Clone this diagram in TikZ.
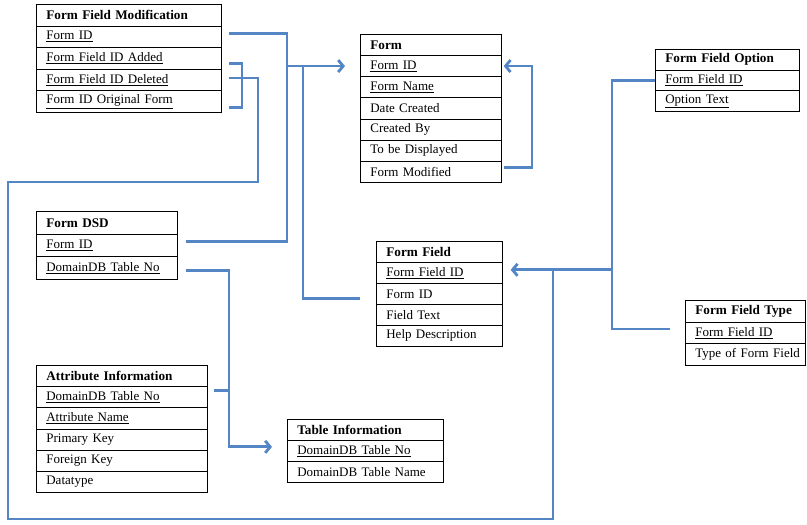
\documentclass[tikz,border=0pt]{standalone}
\usepackage{fontspec}
\setmainfont{Liberation Serif}
\usetikzlibrary{arrows.meta}
\definecolor{conn}{RGB}{84,133,196}
\tikzset{
  x=1pt, y=-1pt,
  cell/.style={draw=black, line width=0.7pt, anchor=north west, inner xsep=10pt, inner ysep=0pt, align=left, font=\fontsize{13}{14}\selectfont},
  hdr/.style={cell, font=\fontsize{13.2}{14}\selectfont\bfseries},
  link/.style={draw=conn, line width=2.8pt, line join=miter},
  tip/.style={link, -{Straight Barb[length=5pt,width=12pt]}}
}
% \erow{name}{x}{y}{width}{height}{text}
\newcommand{\erow}[6]{\node[cell, minimum width=#4pt, minimum height=#5pt, text width=\dimexpr#4pt-20pt\relax] (#1) at (#2,#3) {\mbox{#6}};}
\newcommand{\ehdr}[6]{\node[hdr, minimum width=#4pt, minimum height=#5pt, text width=\dimexpr#4pt-20pt\relax] (#1) at (#2,#3) {\mbox{#6}};}
\begin{document}
\begin{tikzpicture}
\useasboundingbox (0,0) rectangle (807,525);
% Form Field Modification
\ehdr{ffm0}{36}{4}{185}{21.6}{Form Field Modification}
\erow{ffm1}{36}{25.6}{185}{21.6}{\underline{Form ID}}
\erow{ffm2}{36}{47.2}{185}{21.6}{\underline{Form Field ID Added}}
\erow{ffm3}{36}{68.8}{185}{21.6}{\underline{Form Field ID Deleted}}
\erow{ffm4}{36}{90.4}{185}{21.6}{\underline{Form ID Original Form}}
% Form
\ehdr{fm0}{360}{34}{141}{21.14}{Form}
\erow{fm1}{360}{55.14}{141}{21.14}{\underline{Form ID}}
\erow{fm2}{360}{76.28}{141}{21.14}{\underline{Form Name}}
\erow{fm3}{360}{97.42}{141}{21.14}{Date Created}
\erow{fm4}{360}{118.56}{141}{21.14}{Created By}
\erow{fm5}{360}{139.7}{141}{21.14}{To be Displayed}
\erow{fm6}{360}{160.84}{141}{21.14}{Form Modified}
% Form Field Option
\ehdr{ffo0}{655}{49}{144}{20.7}{Form Field Option}
\erow{ffo1}{655}{69.7}{144}{20.7}{\underline{Form Field ID}}
\erow{ffo2}{655}{90.4}{144}{20.7}{\underline{Option Text}}
% Form DSD
\ehdr{dsd0}{36}{211}{141}{22.7}{Form DSD}
\erow{dsd1}{36}{233.7}{141}{22.7}{\underline{Form ID}}
\erow{dsd2}{36}{256.4}{141}{22.7}{\underline{DomainDB Table No}}
% Form Field
\ehdr{ff0}{376}{241}{126}{21}{Form Field}
\erow{ff1}{376}{262}{126}{21}{\underline{Form Field ID}}
\erow{ff2}{376}{283}{126}{21}{Form ID}
\erow{ff3}{376}{304}{126}{21}{Field Text}
\erow{ff4}{376}{325}{126}{21}{Help Description}
% Form Field Type
\ehdr{fft0}{685}{300}{120}{21.7}{Form Field Type}
\erow{fft1}{685}{321.7}{120}{21.7}{\underline{Form Field ID}}
\erow{fft2}{685}{343.4}{120}{21.7}{Type of Form Field}
% Attribute Information
\ehdr{ai0}{36}{365}{171}{21.17}{Attribute Information}
\erow{ai1}{36}{386.17}{171}{21.17}{\underline{DomainDB Table No}}
\erow{ai2}{36}{407.34}{171}{21.17}{\underline{Attribute Name}}
\erow{ai3}{36}{428.51}{171}{21.17}{Primary Key}
\erow{ai4}{36}{449.68}{171}{21.17}{Foreign Key}
\erow{ai5}{36}{470.85}{171}{21.17}{Datatype}
% Table Information
\ehdr{ti0}{287}{419}{156}{21}{Table Information}
\erow{ti1}{287}{440}{156}{21}{\underline{DomainDB Table No}}
\erow{ti2}{287}{461}{156}{21}{DomainDB Table Name}
% connector end points
\coordinate (a1) at ([shift={(7,-3)}]ffm1.east);
\coordinate (a2) at ([shift={(7,5)}]ffm2.east);
\coordinate (a3) at ([shift={(7,-2)}]ffm3.east);
\coordinate (a4) at ([shift={(7,6)}]ffm4.east);
\coordinate (d1) at ([shift={(8,-4)}]dsd1.east);
\coordinate (d2) at ([shift={(8,2)}]dsd2.east);
\coordinate (fmid) at ([shift={(-15,0)}]fm1.west);
\coordinate (fmidr) at ([shift={(2,0)}]fm1.east);
\coordinate (fmod) at ([shift={(2,-4)}]fm6.east);
\coordinate (ffid) at ([shift={(8,-3)}]ff1.east);
\coordinate (ffform) at ([shift={(-16,5)}]ff2.west);
\coordinate (foid) at (ffo1.west);
\coordinate (ftid) at ([shift={(-15,-4)}]fft1.west);
\coordinate (aiid) at ([shift={(6,-7)}]ai1.east);
\coordinate (tiid) at ([shift={(-15,-4)}]ti1.west);
% vertical runs
\coordinate (vA) at (287,0);
\coordinate (vB) at (303,0);
\coordinate (vC) at (242,0);
\coordinate (vD) at (258,0);
\coordinate (vF) at (553,0);
\coordinate (vG) at (612,0);
\coordinate (vH) at (532,0);
\coordinate (vI) at (229,0);
% connectors
\draw[link] (a1) -- (a1 -| vA) -- (vA |- d1) -- (d1);
\draw[tip] (vA |- fmid) -- (fmid);
\draw[link] (vB |- fmid) -- (vB |- ffform) -- (ffform);
\draw[link] (a2) -- (a2 -| vC) -- (vC |- a4) -- (a4);
\draw[link] (a3) -- (a3 -| vD) -- (258,182) -- (8,182) -- (8,519) -- (553,519) -- (vF |- ffid);
\draw[link] (foid) -- (foid -| vG) -- (vG |- ftid) -- (ftid);
\draw[tip] (vG |- ffid) -- (ffid);
\draw[tip] (fmod) -- (fmod -| vH) -- (vH |- fmidr) -- (fmidr);
\draw[tip] (d2) -- (d2 -| vI) -- (vI |- tiid) -- (tiid);
\draw[link] (aiid) -- (aiid -| vI);
\end{tikzpicture}
\end{document}
